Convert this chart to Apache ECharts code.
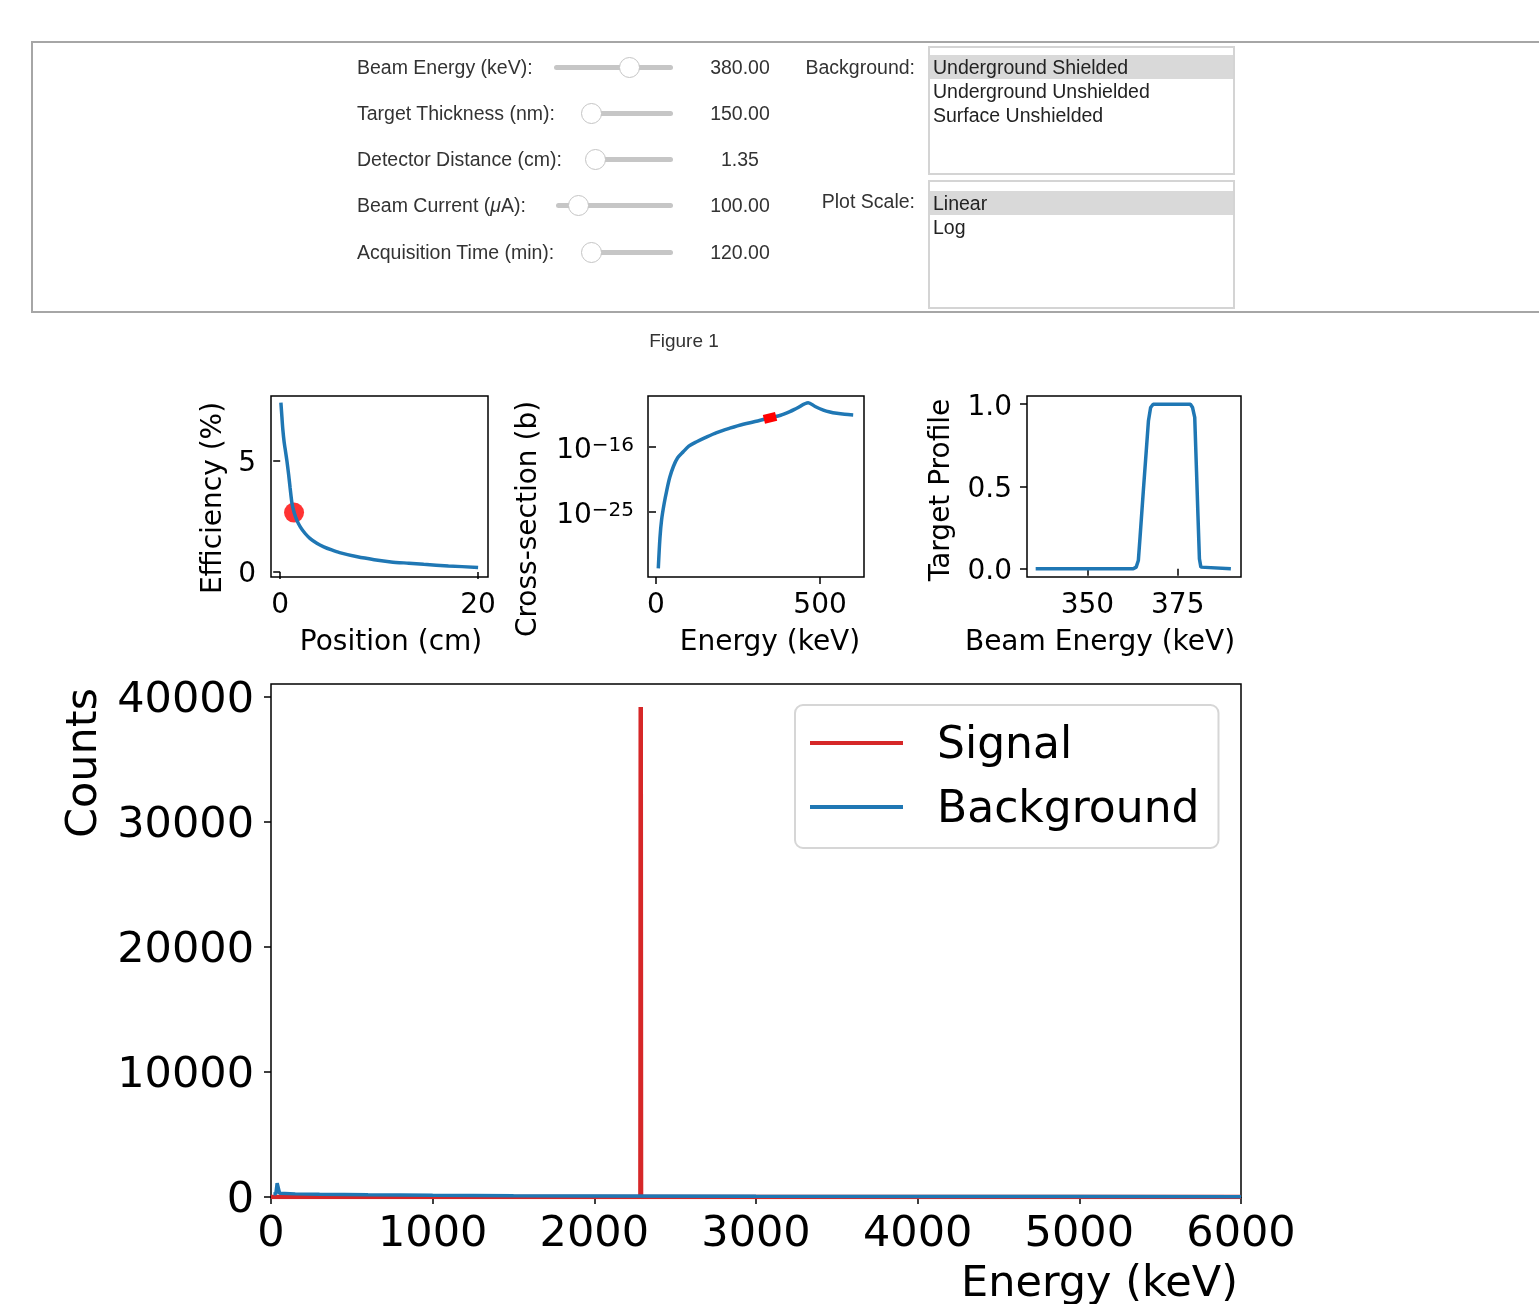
<!DOCTYPE html>
<html>
<head>
<meta charset="utf-8">
<title>Figure 1</title>
<script src="https://cdn.jsdelivr.net/npm/echarts@6.0.0/dist/echarts.min.js"></script>
<style>
  html, body { margin: 0; padding: 0; background: #fff; width: 1539px; height: 1304px; overflow: hidden; }
  #chart { position: absolute; left: 0; top: 0; width: 1539px; height: 1304px; }
  #panel { position: absolute; left: 31px; top: 41px; width: 1560px; height: 268px; border: 2px solid #a6a6a6; border-right: none; }
  .ui { position: absolute; font-family: "Liberation Sans", Arial, sans-serif; font-size: 19.5px; color: #333; white-space: nowrap; line-height: 24px; }
  .track { position: absolute; height: 5px; background: #c6c6c6; border-radius: 3px; }
  .thumb { position: absolute; width: 21px; height: 21px; border-radius: 50%; background: #fff; border: 1px solid #c4c4c4; box-sizing: border-box; }
  .list { position: absolute; left: 928px; width: 307px; border: 2px solid #d4d4d4; box-sizing: border-box; background: #fff; }
  .opt { position: absolute; left: 0; right: 0; height: 24px; line-height: 24px; padding-left: 3px; font-family: "Liberation Sans", Arial, sans-serif; font-size: 19.5px; color: #222; }
  .opt.sel { background: #d9d9d9; }
</style>
</head>
<body>
<div id="chart"></div>
<div id="panel"></div>
<div id="widgets"></div>
<script>
// ---- widget panel text ----
const sliderLabels = ['Beam Energy (keV):', 'Target Thickness (nm):', 'Detector Distance (cm):', 'Beam Current (<i>μ</i>A):', 'Acquisition Time (min):'];
const sliderValues = ['380.00', '150.00', '1.35', '100.00', '120.00'];
const backgroundOptions = ['Underground Shielded', 'Underground Unshielded', 'Surface Unshielded'];
const scaleOptions = ['Linear', 'Log'];

// ---- efficiency vs position ----
const effPosition = [0.07, 0.17, 0.27, 0.4, 0.55, 0.68, 0.85, 1.0, 1.19, 1.4, 1.7, 2.03, 2.5, 3.0, 3.7, 4.4, 5.2, 6.0, 7.8, 9.5, 11.2, 13.0, 14.5, 17.0, 20.0];
const effValue = [7.63, 7.0, 6.4, 5.85, 5.4, 5.0, 4.4, 3.8, 3.1, 2.7, 2.32, 2.04, 1.75, 1.52, 1.3, 1.14, 1.0, 0.88, 0.69, 0.56, 0.46, 0.4, 0.35, 0.28, 0.21];
const effMarker = [1.4, 2.68];

// ---- cross-section vs energy ----
const xsEnergy = [7, 12, 17, 25, 33, 42, 53, 66, 83, 100, 124, 150, 185, 225, 266, 310, 348, 380, 408, 429, 464, 485, 510, 530, 551, 575, 601];
const xsValue = [1.6e-33, 2.5e-29, 7.9e-27, 1.6e-24, 1.1e-22, 6.3e-21, 2.0e-19, 3.2e-18, 2.2e-17, 1.3e-16, 5.4e-16, 2.0e-15, 1.0e-14, 4.0e-14, 1.4e-13, 4.0e-13, 1.15e-12, 2.5e-12, 7.9e-12, 2.3e-11, 1.35e-10, 4.0e-11, 1.3e-11, 7.1e-12, 4.7e-12, 3.4e-12, 2.7e-12];
const xsMarkEnergy = [329, 366];
const xsMarkValue = [6.8e-13, 1.8e-12];

// ---- target profile ----
const profEnergy = [335.7, 362.7, 363.5, 364.1, 364.6, 365.5, 366.3, 366.9, 367.5, 368.2, 378.5, 379.1, 379.7, 380.2, 380.6, 381.0, 381.4, 381.8, 389.7];
const profValue = [0, 0, 0.01, 0.05, 0.2, 0.48, 0.72, 0.9, 0.98, 1.0, 1.0, 0.98, 0.92, 0.59, 0.32, 0.06, 0.01, 0, 0];

// ---- spectrum ----
const signalEnergy = [0, 2285, 2287, 2289, 6000];
const signalCounts = [0, 0, 39200, 0, 0];
const bgEnergy = [15, 30, 36, 38, 45, 50, 53, 60, 150, 300, 600, 1000, 1500, 2000, 3000, 4000, 5000, 6000];
const bgCounts = [250, 260, 300, 1100, 1150, 1100, 300, 260, 250, 220, 180, 140, 110, 90, 60, 45, 35, 30];

// ---- tick values ----
const effXTicks = [0, 20];
const effYTicks = [0, 5];
const xsXTicks = [0, 500];
const xsYTicks = [1e-25, 1e-16];
const profXTicks = [350, 375];
const profYTicks = [0, 0.5, 1.0];
const specXTicks = [0, 1000, 2000, 3000, 4000, 5000, 6000];
const specYTicks = [0, 10000, 20000, 30000, 40000];

// build widget panel
const w = document.getElementById('widgets');
const rowY = [67, 113, 159, 205, 252];
const tracks = [[554, 673, 629], [590, 673, 591], [595, 673, 595], [556, 673, 578], [590, 673, 591]];
let html = '';
sliderLabels.forEach(function (lab, i) {
  const y = rowY[i];
  const t = tracks[i];
  html += '<div class="ui" style="left:357px;top:' + (y - 12) + 'px">' + lab + '</div>';
  html += '<div class="track" style="left:' + t[0] + 'px;width:' + (t[1] - t[0]) + 'px;top:' + (y - 2.5) + 'px"></div>';
  html += '<div class="thumb" style="left:' + (t[2] - 10.5) + 'px;top:' + (y - 10.5) + 'px"></div>';
  html += '<div class="ui" style="left:690px;width:100px;text-align:center;top:' + (y - 12) + 'px">' + sliderValues[i] + '</div>';
});
html += '<div class="ui" style="left:715px;width:200px;text-align:right;top:55px">Background:</div>';
html += '<div class="ui" style="left:715px;width:200px;text-align:right;top:189px">Plot Scale:</div>';
html += '<div class="list" style="top:46px;height:129px">';
backgroundOptions.forEach(function (o, i) {
  html += '<div class="opt' + (i === 0 ? ' sel' : '') + '" style="top:' + (7 + i * 24) + 'px">' + o + '</div>';
});
html += '</div><div class="list" style="top:180px;height:129px">';
scaleOptions.forEach(function (o, i) {
  html += '<div class="opt' + (i === 0 ? ' sel' : '') + '" style="top:' + (9 + i * 24) + 'px">' + o + '</div>';
});
html += '</div>';
html += '<div class="ui" style="left:584px;width:200px;text-align:center;top:329px;font-size:19px">Figure 1</div>';
w.innerHTML = html;

// chart
const ff = 'DejaVu Sans';
const zip = (a, b) => a.map((v, i) => [v, b[i]]);

// tick labels go through a rich token so a top padding can nudge them down
function ax(gridIndex, type, min, max, ticks, fontSize, margin, fmt, padTop) {
  return {
    gridIndex: gridIndex, type: type, min: min, max: max,
    axisLine: { show: false },
    axisTick: { show: true, inside: false, length: 7, lineStyle: { color: '#000', width: 1.5 }, customValues: ticks },
    axisLabel: {
      customValues: ticks, fontSize: fontSize, fontFamily: ff, color: '#000', margin: margin,
      formatter: v => '{t|' + fmt(v) + '}',
      rich: { t: { fontSize: fontSize, fontFamily: ff, color: '#000', padding: [padTop || 0, 0, 0, 0] } }
    },
    splitLine: { show: false }
  };
}
const plain = v => String(v);
const gridStyle = { show: true, borderColor: '#000', borderWidth: 1.5, backgroundColor: '#fff', outerBoundsMode: 'none' };

const yXs = ax(1, 'log', 1e-34, 1.15e-9, xsYTicks, 28, 14, plain);
yXs.logBase = 10;
yXs.axisLabel.formatter = function (v) {
  const p = Math.round(Math.log10(v));
  return '{b|10}{s|\u2212' + Math.abs(p) + '}';
};
yXs.axisLabel.rich = {
  b: { fontSize: 28, fontFamily: ff, color: '#000', lineHeight: 38, padding: [8, 0, 0, 0] },
  s: { fontSize: 20, fontFamily: ff, color: '#000', verticalAlign: 'top', padding: [8, 0, 0, 0] }
};

function nameText(text, x, y, size, rot, align) {
  return {
    type: 'text', x: x, y: y, rotation: rot || 0,
    style: { text: text, fontSize: size, fontFamily: ff, fill: '#000', align: align || 'center', verticalAlign: 'middle' }
  };
}

const option = {
  animation: false,
  backgroundColor: '#fff',
  grid: [
    Object.assign({ left: 271, top: 396, width: 217, height: 181 }, gridStyle),
    Object.assign({ left: 648, top: 396, width: 216, height: 181 }, gridStyle),
    Object.assign({ left: 1027, top: 396, width: 214, height: 181 }, gridStyle),
    Object.assign({ left: 271, top: 684, width: 970, height: 513 }, gridStyle)
  ],
  xAxis: [
    ax(0, 'value', -0.93, 21.0, effXTicks, 28, 15, plain),
    ax(1, 'value', -24.4, 634, xsXTicks, 28, 15, plain),
    ax(2, 'value', 333.3, 392.5, profXTicks, 28, 15, plain),
    ax(3, 'value', 0, 6000, specXTicks, 43, 16, plain)
  ],
  yAxis: [
    ax(0, 'value', -0.22, 7.93, effYTicks, 28, 15, plain, 6),
    yXs,
    ax(2, 'value', -0.05, 1.05, profYTicks, 28, 15, v => v.toFixed(1), 6),
    ax(3, 'value', 0, 41040, specYTicks, 43, 17, plain, 8)
  ],
  legend: {
    data: ['Signal', 'Background'],
    orient: 'vertical',
    left: 795, top: 705,
    icon: 'rect', itemWidth: 93, itemHeight: 4, itemGap: 12,
    padding: [12, 19, 15, 15],
    backgroundColor: '#fff', borderColor: '#d6d6d6', borderWidth: 2, borderRadius: 8,
    formatter: name => '{t|' + name + '}',
    textStyle: {
      fontSize: 44, fontFamily: ff, color: '#000',
      rich: { t: { fontSize: 44, fontFamily: ff, color: '#000', lineHeight: 50, padding: [8, 0, 0, 29] } }
    }
  },
  series: [
    { type: 'scatter', xAxisIndex: 0, yAxisIndex: 0, data: [effMarker], symbolSize: 20, itemStyle: { color: '#f00' }, z: 2 },
    { type: 'line', xAxisIndex: 0, yAxisIndex: 0, data: zip(effPosition, effValue), symbol: 'none', smooth: 0.25, lineStyle: { color: '#1f77b4', width: 3.5 }, z: 3 },
    { type: 'line', xAxisIndex: 1, yAxisIndex: 1, data: zip(xsEnergy, xsValue), symbol: 'none', smooth: 0.3, lineStyle: { color: '#1f77b4', width: 3.5 }, z: 2 },
    { type: 'line', xAxisIndex: 1, yAxisIndex: 1, data: zip(xsMarkEnergy, xsMarkValue), symbol: 'none', lineStyle: { color: '#f00', width: 9, cap: 'butt' }, z: 3 },
    { type: 'line', xAxisIndex: 2, yAxisIndex: 2, data: zip(profEnergy, profValue), symbol: 'none', lineStyle: { color: '#1f77b4', width: 3.5 } },
    { name: 'Signal', type: 'line', xAxisIndex: 3, yAxisIndex: 3, data: zip(signalEnergy, signalCounts), symbol: 'none', color: '#d62728', lineStyle: { color: '#d62728', width: 4.5 }, z: 2 },
    { name: 'Background', type: 'line', xAxisIndex: 3, yAxisIndex: 3, data: zip(bgEnergy, bgCounts), symbol: 'none', color: '#1f77b4', lineStyle: { color: '#1f77b4', width: 3.5 }, z: 3 }
  ],
  graphic: [
    nameText('Efficiency (%)', 214, 498, 28, Math.PI / 2),
    nameText('Position (cm)', 391, 643, 28),
    nameText('Cross-section (b)', 529, 519, 28, Math.PI / 2),
    nameText('Energy (keV)', 770, 643, 28),
    nameText('Target Profile', 942, 490, 28, Math.PI / 2),
    nameText('Beam Energy (keV)', 1100, 643, 28),
    nameText('Counts', 85, 763, 43, Math.PI / 2),
    nameText('Energy (keV)', 1238, 1285, 43, 0, 'right')
  ]
};

const chart = echarts.init(document.getElementById('chart'));
chart.setOption(option);
</script>
</body>
</html>
